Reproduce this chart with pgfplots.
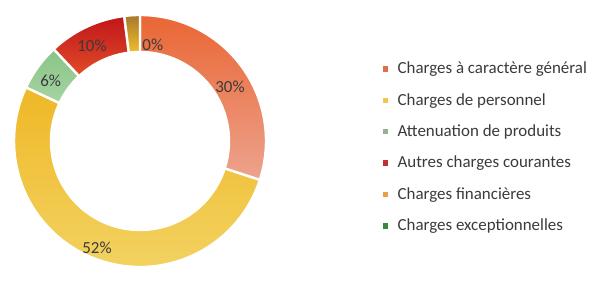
\documentclass[border=0pt]{standalone}
\usepackage{pgfplots}
\pgfplotsset{compat=1.18}
\usepackage{fontspec}
\setmainfont{Carlito}
\definecolor{txt}{HTML}{3A3A3A}
\definecolor{c1a}{HTML}{EA6634}\definecolor{c1b}{HTML}{EDA38E}
\definecolor{c2a}{HTML}{EFB826}\definecolor{c2b}{HTML}{F3D466}
\definecolor{c3a}{HTML}{89C488}\definecolor{c3b}{HTML}{A6D4A2}
\definecolor{c4a}{HTML}{C0161A}\definecolor{c4b}{HTML}{E24C28}
\definecolor{c5a}{HTML}{A8782A}\definecolor{c5b}{HTML}{F0BE2E}
\definecolor{m1}{HTML}{E0704A}\definecolor{m2}{HTML}{F0C850}
\definecolor{m3}{HTML}{98B098}\definecolor{m4}{HTML}{C03030}
\definecolor{m5}{HTML}{E8A040}\definecolor{m6}{HTML}{3A8A3A}
% slice: start %, end %, top colour, bottom colour
\newcommand\slice[4]{%
  \path[draw=white,line width=2.4pt,top color=#3,bottom color=#4]
    ({140+126*cos(90-3.6*#1)},{130+126*sin(90-3.6*#1)})
    arc[start angle={90-3.6*#1},end angle={90-3.6*#2},radius=126]
    -- ({140+89*cos(90-3.6*#2)},{130+89*sin(90-3.6*#2)})
    arc[start angle={90-3.6*#2},end angle={90-3.6*#1},radius=89]
    -- cycle;}
\newcommand\plabel[3]{% position %, radius, text
  \node[font=\fontsize{17}{17}\selectfont,text=txt] at
    ({140+#2*cos(90-3.6*#1)},{130+#2*sin(90-3.6*#1)}) {#3};}
\begin{document}
\begin{tikzpicture}
\begin{axis}[
  scale only axis, width=592bp, height=271bp,
  xmin=0, xmax=592, ymin=0, ymax=271,
  hide axis, clip=false,
  legend style={at={(axis cs:380,213)}, anchor=north west, draw=none, fill=none,
    font=\fontsize{17}{19}\selectfont, text=txt, row sep=14.1bp,
    /tikz/every odd column/.append style={column sep=8bp}},
  legend cell align=left,
]
\path (rel axis cs:0,0) rectangle (rel axis cs:1,1);
% values (%): 30, 52, 6, 10, 2, 0
\slice{0}{30}{c1a}{c1b}
\slice{30}{82}{c2a}{c2b}
\slice{82}{88}{c3a}{c3b}
\slice{88}{98}{c4a}{c4b}
\slice{98}{100}{c5a}{c5b}
\plabel{16.4}{105}{30\%}
\plabel{56.1}{115}{52\%}
\plabel{84.5}{108}{6\%}
\plabel{92.6}{107}{10\%}
\plabel{102.1}{97}{0\%}
\addlegendimage{only marks, mark=square*, mark size=2.2bp, mark options={fill=m1,draw=m1}}
\addlegendentry{Charges à caractère général}
\addlegendimage{only marks, mark=square*, mark size=2.2bp, mark options={fill=m2,draw=m2}}
\addlegendentry{Charges de personnel}
\addlegendimage{only marks, mark=square*, mark size=2.2bp, mark options={fill=m3,draw=m3}}
\addlegendentry{Attenuation de produits}
\addlegendimage{only marks, mark=square*, mark size=2.2bp, mark options={fill=m4,draw=m4}}
\addlegendentry{Autres charges courantes}
\addlegendimage{only marks, mark=square*, mark size=2.2bp, mark options={fill=m5,draw=m5}}
\addlegendentry{Charges financières}
\addlegendimage{only marks, mark=square*, mark size=2.2bp, mark options={fill=m6,draw=m6}}
\addlegendentry{Charges exceptionnelles}
\end{axis}
\end{tikzpicture}
\end{document}
